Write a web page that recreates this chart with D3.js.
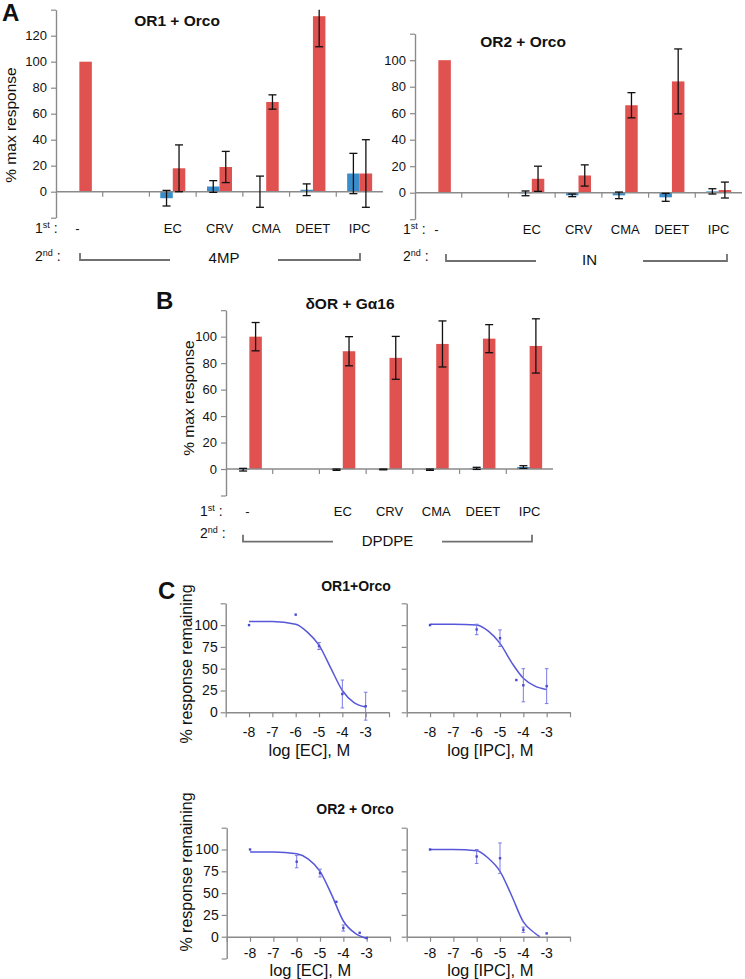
<!DOCTYPE html>
<html><head><meta charset="utf-8">
<script src="https://cdn.jsdelivr.net/npm/d3@7"></script>
<style>
body{margin:0;background:#fff}
svg{display:block}
text{font-family:"Liberation Sans",Arial,Helvetica,sans-serif;fill:#111}
</style>
</head><body>
<svg id="fig" width="745" height="979"></svg>
<script>
// ================= DATA =================
// Panels A & B: categories = 1st application
const categories = ["-", "", "EC", "CRV", "CMA", "DEET", "IPC"];

// A, OR1 + Orco (2nd: 4MP)
const or1First     = [0, null, -5, 4, 0, 1.5, 14];
const or1FirstErr  = [0, null, 6, 4.5, 12, 4.5, 15.5];
const or1Second    = [100, null, 18, 19, 69, 135, 14];
const or1SecondErr = [0, null, 18, 12, 5.5, 23.5, 26];

// A, OR2 + Orco (2nd: IN)
const or2First     = [0, null, -0.5, -2, -2, -3.5, 1];
const or2FirstErr  = [0, null, 1.8, 1, 2.5, 3, 2];
const or2Second    = [100, null, 10.5, 13, 66, 84, 2];
const or2SecondErr = [0, null, 9.5, 8, 9.5, 24.5, 6];

// B, deltaOR + Galpha16 (2nd: DPDPE)
const dorFirst     = [-0.5, null, -0.5, -0.3, -0.5, 0.5, 1.5];
const dorFirstErr  = [1, null, 0.5, 0.3, 0.5, 0.8, 1];
const dorSecond    = [100, null, 89, 84, 94.5, 98.5, 93];
const dorSecondErr = [10.7, null, 11, 16.2, 17.4, 10.6, 20.5];

const tickLabelsA1 = [0, 20, 40, 60, 80, 100, 120];
const tickLabelsA2 = [0, 20, 40, 60, 80, 100];
const tickLabelsB  = [0, 20, 40, 60, 80, 100];

// Panel C: dose-response (log M)
const cTicksX = [-8, -7, -6, -5, -4, -3];
const cTicksY = [0, 25, 50, 75, 100];

// OR1+Orco, EC
const ecOr1X    = [-8, -6, -5, -4, -3];
const ecOr1Y    = [100, 112, 76, 21, 7];
const ecOr1Err  = [0, 0, 4, 16, 16];
const ecOr1FitX = [-8, -7, -6, -5.5, -5, -4.5, -4, -3.5, -3];
const ecOr1FitY = [104, 104, 101, 92, 77, 51, 25, 11, 6];

// OR1+Orco, IPC
const ipcOr1X    = [-8, -6, -5, -4.3, -4, -3];
const ipcOr1Y    = [100, 95, 85, 37, 31, 30];
const ipcOr1Err  = [0, 6, 9.5, 0, 19, 20];
const ipcOr1FitX = [-8, -7, -6, -5.5, -5, -4.5, -4, -3.5, -3];
const ipcOr1FitY = [101, 101, 100, 93, 79, 57, 39, 30, 26];

// OR2 + Orco, EC
const ecOr2X    = [-8, -6, -5, -4.3, -4, -3.3, -3];
const ecOr2Y    = [100, 86, 73, 40, 10, 4.5, -1.5];
const ecOr2Err  = [0, 7, 4.5, 0, 3.5, 0, 0];
const ecOr2FitX = [-8, -7, -6, -5.5, -5, -4.5, -4, -3.5, -3];
const ecOr2FitY = [97, 97, 95, 89, 75, 48, 18, 4, -2];

// OR2 + Orco, IPC
const ipcOr2X    = [-8, -6, -5, -4, -3];
const ipcOr2Y    = [100, 92, 90, 8, 3.8];
const ipcOr2Err  = [0, 8, 17.5, 3, 0];
const ipcOr2FitX = [-8, -7, -6, -5.5, -5, -4.5, -4, -3.5, -3.3];
const ipcOr2FitY = [100, 100, 98.5, 90, 75, 47, 17, 4, 0];

// ================= DRAW =================
const svg = d3.select("#fig");
const AX = "#8a8a8a";
const RED = "#DF5250";
const BLUE = "#3A8DCB";
const CURVE = "#5757D9";

function firstLabel(g, x, y, num, sup) {
  const t = g.append("text").attr("x", x).attr("y", y).attr("font-size", 14);
  t.append("tspan").text(num);
  t.append("tspan").attr("font-size", 9).attr("dy", -5).text(sup);
  t.append("tspan").attr("dy", 5).text(" :");
}

function barPanel(cfg) {
  const g = svg.append("g");
  const x = d3.scaleBand().domain(categories).range(cfg.xr);
  const y = d3.scaleLinear().domain(cfg.yd).range(cfg.yr);
  const bw = x.bandwidth();
  const sub = d3.scaleBand().domain(["first", "second"]).range([bw / 2 - 12.5, bw / 2 + 12.5]);

  // y axis
  const yAx = d3.axisLeft(y)
    .tickValues(d3.range(cfg.yd[0], cfg.yd[1] + 1, 20))
    .tickSize(5).tickSizeOuter(0)
    .tickFormat(d => cfg.labels.includes(d) ? d : "");
  const ya = g.append("g").attr("transform", `translate(${cfg.xr[0]},0)`).call(yAx);
  ya.select(".domain").attr("stroke", AX).attr("stroke-width", 1.4);
  ya.selectAll(".tick line").attr("stroke", AX).attr("stroke-width", 1.2);
  ya.selectAll(".tick text").attr("font-size", 13).attr("fill", "#111")
    .style("font-family", '"Liberation Sans",Arial,sans-serif').attr("dx", -1);

  // bars
  const series = [
    {key: "first", vals: cfg.first, errs: cfg.firstErr, color: BLUE},
    {key: "second", vals: cfg.second, errs: cfg.secondErr, color: RED}
  ];
  series.forEach(s => {
    categories.forEach((c, i) => {
      const v = s.vals[i];
      if (v === null) return;
      const x0 = x(c) + sub(s.key);
      g.append("rect")
        .attr("x", x0).attr("width", sub.bandwidth())
        .attr("y", y(Math.max(0, v))).attr("height", Math.abs(y(v) - y(0)))
        .attr("fill", s.color);
    });
  });

  // x axis line at 0 with boundary ticks
  g.append("line").attr("x1", cfg.xr[0]).attr("x2", cfg.xr[1])
    .attr("y1", y(0)).attr("y2", y(0)).attr("stroke", AX).attr("stroke-width", 1.4);
  categories.slice(1).forEach(c => {
    g.append("line").attr("x1", x(c)).attr("x2", x(c))
      .attr("y1", y(0)).attr("y2", y(0) + 5).attr("stroke", AX).attr("stroke-width", 1.2);
  });

  // error bars
  series.forEach(s => {
    categories.forEach((c, i) => {
      const v = s.vals[i], e = s.errs[i];
      if (v === null || !e) return;
      const cx = x(c) + sub(s.key) + sub.bandwidth() / 2;
      const hi = v + e, lo = v - e;
      const hiC = Math.min(hi, cfg.yd[1]), loC = Math.max(lo, cfg.yd[0]);
      g.append("line").attr("x1", cx).attr("x2", cx).attr("y1", y(hiC)).attr("y2", y(loC))
        .attr("stroke", "#111").attr("stroke-width", 1.3);
      if (hi <= cfg.yd[1]) g.append("line").attr("x1", cx - 4).attr("x2", cx + 4)
        .attr("y1", y(hi)).attr("y2", y(hi)).attr("stroke", "#111").attr("stroke-width", 1.3);
      if (lo >= cfg.yd[0]) g.append("line").attr("x1", cx - 4).attr("x2", cx + 4)
        .attr("y1", y(lo)).attr("y2", y(lo)).attr("stroke", "#111").attr("stroke-width", 1.3);
    });
  });

  // title
  g.append("text").attr("x", cfg.title[1]).attr("y", cfg.title[2]).attr("text-anchor", "middle")
    .attr("font-size", 15.5).attr("font-weight", "bold").text(cfg.title[0]);

  // 1st row labels
  firstLabel(g, cfg.labX, cfg.row1, "1", "st");
  categories.forEach(c => {
    if (!c) return;
    g.append("text").attr("x", x(c) + bw / 2 - (c === "-" ? 2 : 0)).attr("y", cfg.row1)
      .attr("text-anchor", "middle").attr("font-size", 13).text(c);
  });
  // 2nd row + bracket
  firstLabel(g, cfg.labX, cfg.row2, "2", "nd");
  const b = cfg.bracket;
  const path = `M${b[0]},${b[4] - 7}V${b[4]}H${b[1]}M${b[2]},${b[4]}H${b[3]}V${b[4] - 7}`;
  g.append("path").attr("d", path).attr("fill", "none").attr("stroke", "#707070").attr("stroke-width", 1.8);
  g.append("text").attr("x", (b[1] + b[2]) / 2).attr("y", b[5]).attr("text-anchor", "middle")
    .attr("font-size", 15).text(cfg.second2);

  if (cfg.ylab) {
    g.append("text").attr("transform", `translate(${cfg.ylab[0]},${cfg.ylab[1]}) rotate(-90)`)
      .attr("text-anchor", "middle").attr("font-size", 15.5).text("% max response");
  }
}

barPanel({
  xr: [56, 383], yd: [-20, 140], yr: [217.7, 9.7], labels: tickLabelsA1,
  first: or1First, firstErr: or1FirstErr, second: or1Second, secondErr: or1SecondErr,
  title: ["OR1 + Orco", 177, 26], labX: 35, row1: 233, row2: 261,
  bracket: [80, 170, 278, 360, 260, 262.5], second2: "4MP", ylab: [16, 125]
});
barPanel({
  xr: [415, 742], yd: [-20, 120], yr: [219.2, 33.7], labels: tickLabelsA2,
  first: or2First, firstErr: or2FirstErr, second: or2Second, secondErr: or2SecondErr,
  title: ["OR2 + Orco", 523, 47], labX: 403, row1: 234, row2: 261,
  bracket: [446, 536, 643, 727, 261, 265], second2: "IN", ylab: null
});
barPanel({
  xr: [226, 553], yd: [-20, 120], yr: [495.5, 310.2], labels: tickLabelsB,
  first: dorFirst, firstErr: dorFirstErr, second: dorSecond, secondErr: dorSecondErr,
  title: ["δOR + Gα16", 350, 309], labX: 200, row1: 515.5, row2: 538,
  bracket: [243, 333, 442, 532, 541.7, 545.5], second2: "DPDPE", ylab: [194, 398]
});

// panel letters
[["A", 2, 21], ["B", 156, 309], ["C", 158, 599]].forEach(d => {
  svg.append("text").attr("x", d[1]).attr("y", d[2]).attr("font-size", 24)
    .attr("font-weight", "bold").text(d[0]);
});

// ---------- Panel C ----------
function dosePanel(cfg) {
  const g = svg.append("g");
  const x = d3.scaleLinear().domain([-9, -2]).range([cfg.x0, cfg.x0 + 163.3]);
  const y = d3.scaleLinear().domain(cfg.yd).range(cfg.yr);

  const yAx = d3.axisLeft(y).tickValues(d3.range(cfg.yd[0], 126, 25)).tickSize(5).tickSizeOuter(0)
    .tickFormat(d => cfg.showY && cTicksY.includes(d) ? d : "");
  const ya = g.append("g").attr("transform", `translate(${cfg.x0},0)`).call(yAx);
  ya.select(".domain").attr("stroke", AX).attr("stroke-width", 1.4);
  ya.selectAll(".tick line").attr("stroke", AX).attr("stroke-width", 1.2);
  ya.selectAll(".tick text").attr("font-size", 14).attr("fill", "#111")
    .style("font-family", '"Liberation Sans",Arial,sans-serif');

  const xAx = d3.axisBottom(x).tickValues(d3.range(-9, -1)).tickSize(5).tickSizeOuter(0).tickFormat("");
  const xa = g.append("g").attr("transform", `translate(0,${y(0)})`).call(xAx);
  xa.select(".domain").attr("stroke", AX).attr("stroke-width", 1.4);
  xa.selectAll(".tick line").attr("stroke", AX).attr("stroke-width", 1.2);
  cTicksX.forEach(t => {
    g.append("text").attr("x", x(t)).attr("y", cfg.tickY).attr("text-anchor", "middle")
      .attr("font-size", 14).text(t);
  });

  // fitted curve
  const pts = cfg.fitX.map((v, i) => [v, cfg.fitY[i]]);
  g.append("path").attr("d", d3.line().x(d => x(d[0])).y(d => y(d[1])).curve(d3.curveMonotoneX)(pts))
    .attr("fill", "none").attr("stroke", CURVE).attr("stroke-width", 1.5);

  // data points
  cfg.px.forEach((v, i) => {
    const m = cfg.py[i], e = cfg.pe[i];
    if (e) {
      g.append("line").attr("x1", x(v)).attr("x2", x(v)).attr("y1", y(m + e)).attr("y2", y(m - e))
        .attr("stroke", "#7b7be6").attr("stroke-width", 1);
      [m + e, m - e].forEach(z => g.append("line").attr("x1", x(v) - 1.8).attr("x2", x(v) + 1.8)
        .attr("y1", y(z)).attr("y2", y(z)).attr("stroke", "#7b7be6").attr("stroke-width", 1));
    }
    g.append("rect").attr("x", x(v) - 1.2).attr("y", y(m) - 1.2).attr("width", 2.4).attr("height", 2.4)
      .attr("fill", "#4a4ad0");
  });

  g.append("text").attr("x", (cfg.x0 + 163.3 / 2) + 2).attr("y", cfg.labY).attr("text-anchor", "middle")
    .attr("font-size", 16.5).text(cfg.xlab);
}

dosePanel({x0: 225.7, yd: [0, 125], yr: [712.3, 603.3], showY: true, tickY: 736.5, labY: 756,
  px: ecOr1X, py: ecOr1Y, pe: ecOr1Err, fitX: ecOr1FitX, fitY: ecOr1FitY, xlab: "log [EC], M"});
dosePanel({x0: 406.7, yd: [0, 125], yr: [712.3, 603.3], showY: false, tickY: 736.5, labY: 756,
  px: ipcOr1X, py: ipcOr1Y, pe: ipcOr1Err, fitX: ipcOr1FitX, fitY: ipcOr1FitY, xlab: "log [IPC], M"});
dosePanel({x0: 226.7, yd: [-25, 125], yr: [958.5, 827.7], showY: true, tickY: 957.5, labY: 976,
  px: ecOr2X, py: ecOr2Y, pe: ecOr2Err, fitX: ecOr2FitX, fitY: ecOr2FitY, xlab: "log [EC], M"});
dosePanel({x0: 406.7, yd: [0, 125], yr: [936.7, 827.7], showY: false, tickY: 957.5, labY: 976,
  px: ipcOr2X, py: ipcOr2Y, pe: ipcOr2Err, fitX: ipcOr2FitX, fitY: ipcOr2FitY, xlab: "log [IPC], M"});

// C titles and y labels
svg.append("text").attr("x", 356).attr("y", 591).attr("text-anchor", "middle").attr("font-size", 14)
  .attr("font-weight", "bold").text("OR1+Orco");
svg.append("text").attr("x", 355).attr("y", 814).attr("text-anchor", "middle").attr("font-size", 14)
  .attr("font-weight", "bold").text("OR2 + Orco");
[[192, 664], [192, 872]].forEach(p => {
  svg.append("text").attr("transform", `translate(${p[0]},${p[1]}) rotate(-90)`)
    .attr("text-anchor", "middle").attr("font-size", 16).text("% response remaining");
});
</script>
</body></html>
